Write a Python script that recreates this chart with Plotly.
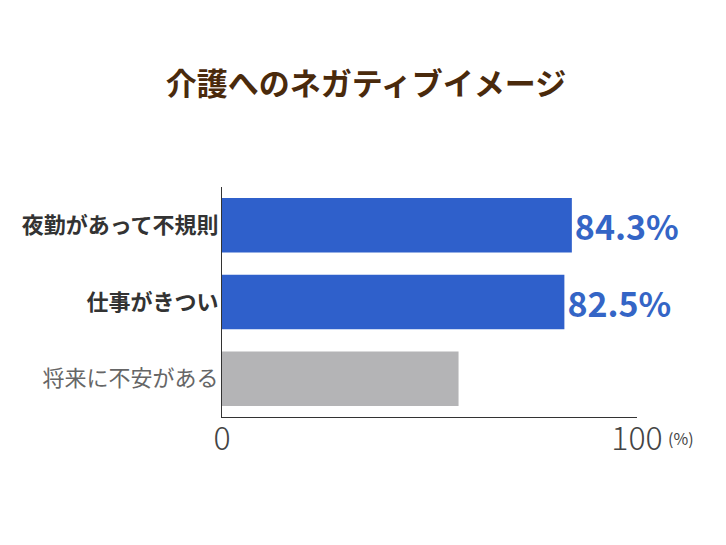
import plotly.graph_objects as go

# Données
categories = ["夜勤があって不規則", "仕事がきつい", "将来に不安がある"]
valeurs = [84.3, 82.5, 57.0]
afficher_valeur = [True, True, False]
couleurs = ["#2f60cb", "#2f60cb", "#b4b4b6"]
ticks_x = [0, 100]

# Libellés : les deux premiers en gras foncé, le dernier en gris
libelles = []
for cat, montre in zip(categories, afficher_valeur):
    if montre:
        libelles.append(f"<b>{cat}</b>")
    else:
        libelles.append(f"<span style='color:#666666'>{cat}</span>")

textes = [f"<b>{v}%</b>" if montre else "" for v, montre in zip(valeurs, afficher_valeur)]

fig = go.Figure(go.Bar(
    x=valeurs, y=categories, orientation="h",
    marker=dict(color=couleurs, line=dict(width=0)),
    width=0.71,
    text=textes, textposition="outside", cliponaxis=False,
    textfont=dict(size=34, color="#3465c6", family="Noto Sans CJK JP"),
))

# marges décalées de 8px pour compenser la marge du <body>
fig.update_layout(
    width=726, height=545,
    margin=dict(l=214, r=97, t=179, b=136, autoexpand=False),
    paper_bgcolor="white", plot_bgcolor="white",
    font=dict(family="Noto Sans CJK JP"),
    showlegend=False,
    title=dict(text="<b>介護へのネガティブイメージ</b>", x=0.493, xanchor="center",
               xref="container", y=0.86, yanchor="middle",
               font=dict(size=31, color="#4a2a0c", family="Noto Sans CJK JP")),
)

fig.update_yaxes(
    type="category", categoryorder="array", categoryarray=categories,
    autorange="reversed", tickvals=categories, ticktext=libelles,
    showline=True, linecolor="#333333", linewidth=1, ticks="",
    ticklabelstandoff=-2, automargin=False,
    tickfont=dict(size=22, color="#333333", family="Noto Sans CJK JP"),
    showgrid=False, zeroline=False,
)

fig.update_xaxes(
    range=[0, 100], tickvals=ticks_x, ticktext=[str(t) for t in ticks_x],
    showline=True, linecolor="#333333", linewidth=1, ticks="",
    tickfont=dict(size=32, color="#444444", family="Noto Sans CJK JP", weight=300),
    showgrid=False, zeroline=False, ticklabelstandoff=-6, automargin=False,
)

fig.add_annotation(text="(%)", xref="paper", yref="paper", x=1.0, y=0,
                   xshift=29, yshift=-21, showarrow=False,
                   xanchor="left", yanchor="middle",
                   font=dict(size=16, color="#444444", family="Noto Sans CJK JP"))

fig.write_html("out.html")
